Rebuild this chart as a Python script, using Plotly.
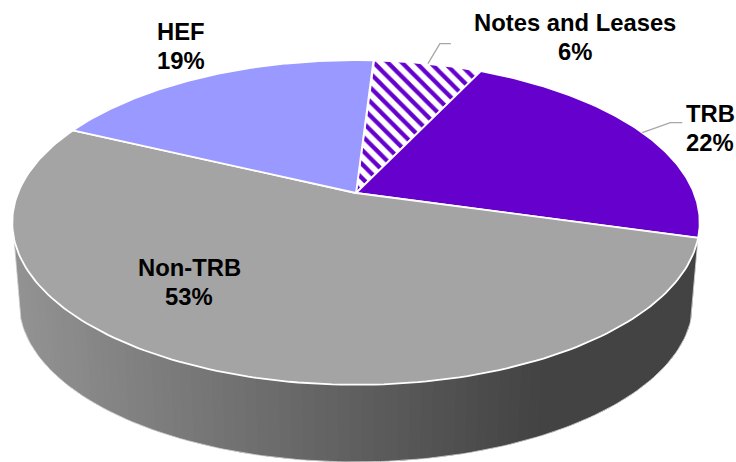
import numpy as np
import plotly.graph_objects as go

categories = ["Notes and Leases", "TRB", "Non-TRB", "HEF"]
values = [6.1, 22.3, 52.7, 18.9]
percent_labels = ["6%", "22%", "53%", "19%"]
colors = ["#6600CC", "#6600CC", "#A4A4A4", "#9999FF"]

W, H = 736, 462
CX, CY, RX, RY, K = 356.0, 193.0, 338.0, 157.0, 0.1815
START = -86.5
DEPTH_CY, DEPTH_SCALE = 274.0, 0.98


def project(deg, cy=CY, scale=1.0):
    t = np.radians(deg)
    d = 1 - K * np.sin(t)
    return CX + scale * RX * np.cos(t) / d, cy + scale * RY * np.sin(t) / d


fig = go.Figure()

# side wall: gradient strips, each one overlapping the next so no seams show
edges = np.linspace(16, 164, 90)
for a, b in zip(edges[:-1], edges[1:]):
    ts = np.linspace(a, min(b + 3, 164), 8)
    tx, ty = project(ts)
    bx, by = project(ts[::-1], DEPTH_CY, DEPTH_SCALE)
    xm = (project(a)[0] + project(b)[0]) / 2
    f = min(max((xm - 20) / 520, 0), 1)
    g = int(round(146 + (67 - 146) * f))
    col = f"rgb({g},{g},{g})"
    fig.add_trace(go.Scatter(
        x=[*tx, *bx, tx[0]], y=[*ty, *by, ty[0]],
        mode="lines", fill="toself", fillcolor=col, line=dict(width=0),
        hoverinfo="skip", showlegend=False))

# faint outline of the wall
arc = np.linspace(16, 164, 150)
ox, oy = project(arc, DEPTH_CY, DEPTH_SCALE)
lx0, ly0 = project(arc[0])
lx1, ly1 = project(arc[-1])
fig.add_trace(go.Scatter(
    x=[lx0, *ox, lx1], y=[ly0, *oy, ly1], mode="lines",
    line=dict(color="#DDDDDD", width=0.8), hoverinfo="skip", showlegend=False))

# top face wedges
total = sum(values)
angle = START
mids = []
for name, v, col in zip(categories, values, colors):
    span = 360 * v / total
    ts = np.linspace(angle, angle + span, 160)
    px, py = project(ts)
    xs = [CX, *px, CX]
    ys = [CY, *py, CY]
    kw = dict(fill="toself", fillcolor=col)
    if name == "Notes and Leases":
        kw = dict(fill="toself", fillcolor="white",
                  fillpattern=dict(shape="\\", fgcolor=col, bgcolor="white", fgopacity=1,
                                   size=10, solidity=0.42))
    fig.add_trace(go.Scatter(x=xs, y=ys, mode="lines", line=dict(color="white", width=1.8),
                             hoverinfo="skip", showlegend=False, **kw))
    mids.append(angle + span / 2)
    angle += span

# leader lines
for i, (dx1, dy1, dx2) in {0: (12, -20, 23), 1: (28, -10, 40)}.items():
    sx, sy = project(mids[i])
    fig.add_shape(type="path", xref="x", yref="y",
                  path=f"M{sx:.1f},{sy:.1f} L{sx+dx1:.1f},{sy+dy1:.1f} L{sx+dx2:.1f},{sy+dy1:.1f}",
                  line=dict(color="#A6A6A6", width=1.3), fillcolor="rgba(0,0,0,0)")

label_pos = {"Notes and Leases": (575, 22), "TRB": (710, 113), "Non-TRB": (189, 267), "HEF": (181, 31)}
for name, pct in zip(categories, percent_labels):
    x, y = label_pos[name]
    for text, yy in ((name, y), (pct, y + 29)):
        fig.add_annotation(x=x, y=yy, xref="x", yref="y", text=f"<b>{text}</b>",
                           showarrow=False, align="center",
                           font=dict(family="Liberation Sans", size=23.8, color="black"))

fig.update_xaxes(range=[0, W], visible=False, fixedrange=True)
fig.update_yaxes(range=[H, 0], visible=False, fixedrange=True)
fig.update_layout(width=W, height=H, margin=dict(l=0, r=0, t=0, b=0),
                  paper_bgcolor="white", plot_bgcolor="white", showlegend=False)
fig.write_html("out.html", config={"displayModeBar": False},
               post_script="document.body.style.margin='0';document.body.style.overflow='hidden';")
